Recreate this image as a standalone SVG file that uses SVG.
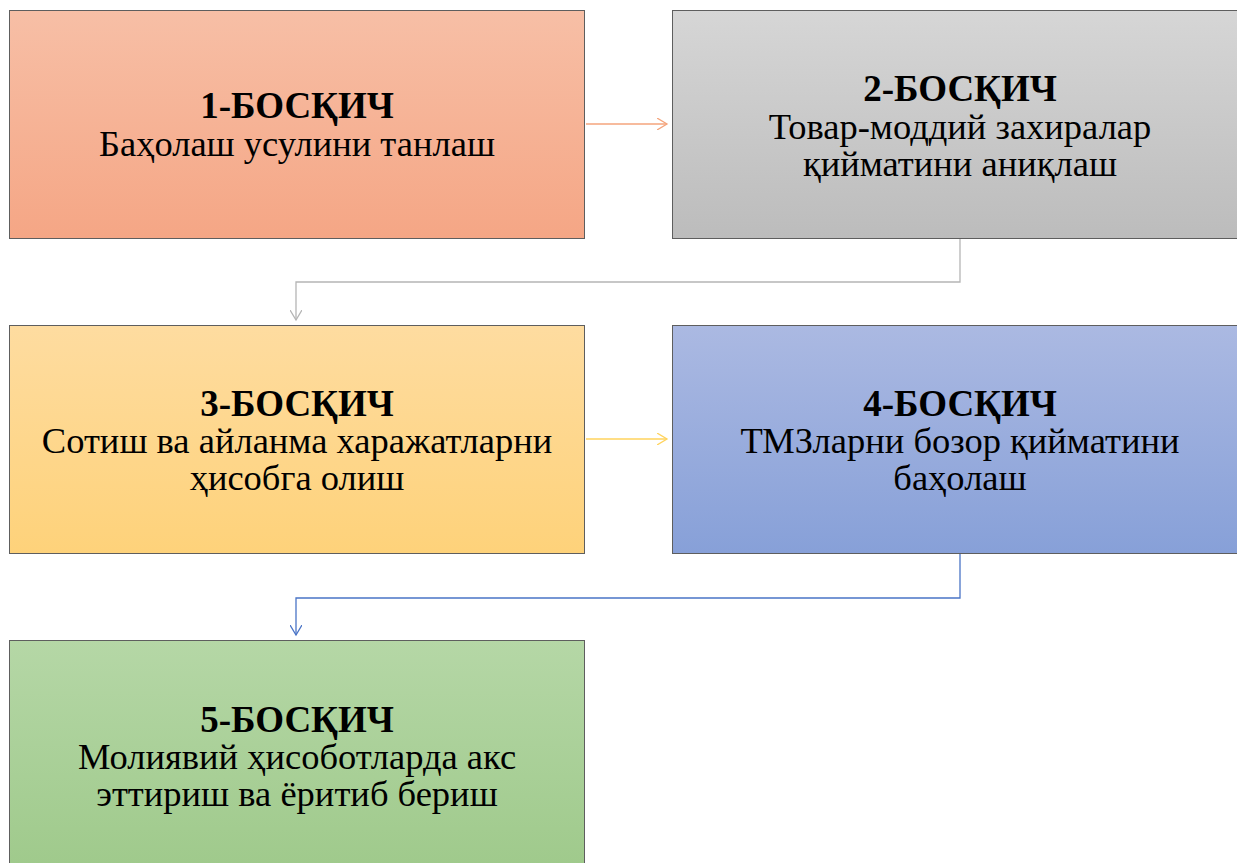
<svg xmlns="http://www.w3.org/2000/svg" width="1237" height="863" viewBox="0 0 1237 863">
<style>
.box{stroke:#5e5e5e;stroke-width:1}
.t{font-family:"Liberation Serif","Times New Roman",serif;font-size:36.5px;fill:#000;text-anchor:middle}
.b{font-weight:bold;font-size:37px}
.c{fill:none;stroke-width:1.3}
</style>
<defs>
<linearGradient id="g1" x1="0" y1="0" x2="0" y2="1"><stop offset="0" stop-color="#f7bfa6"/><stop offset="1" stop-color="#f5a685"/></linearGradient>
<linearGradient id="g2" x1="0" y1="0" x2="0" y2="1"><stop offset="0" stop-color="#d6d6d6"/><stop offset="1" stop-color="#bcbcbc"/></linearGradient>
<linearGradient id="g3" x1="0" y1="0" x2="0" y2="1"><stop offset="0" stop-color="#fedca0"/><stop offset="1" stop-color="#fed27a"/></linearGradient>
<linearGradient id="g4" x1="0" y1="0" x2="0" y2="1"><stop offset="0" stop-color="#abb9e2"/><stop offset="1" stop-color="#87a0d8"/></linearGradient>
<linearGradient id="g5" x1="0" y1="0" x2="0" y2="1"><stop offset="0" stop-color="#b5d7a6"/><stop offset="1" stop-color="#9ec98a"/></linearGradient>
<marker id="a1" markerWidth="12" markerHeight="12" refX="10" refY="6" orient="auto" markerUnits="userSpaceOnUse"><path d="M0,0 L10,6 L0,12" fill="none" stroke="#f4a47c" stroke-width="1.3"/></marker>
<marker id="a2" markerWidth="12" markerHeight="12" refX="10" refY="6" orient="auto" markerUnits="userSpaceOnUse"><path d="M0,0 L10,6 L0,12" fill="none" stroke="#b5b5b5" stroke-width="1.3"/></marker>
<marker id="a3" markerWidth="12" markerHeight="12" refX="10" refY="6" orient="auto" markerUnits="userSpaceOnUse"><path d="M0,0 L10,6 L0,12" fill="none" stroke="#ffd35c" stroke-width="1.3"/></marker>
<marker id="a4" markerWidth="12" markerHeight="12" refX="10" refY="6" orient="auto" markerUnits="userSpaceOnUse"><path d="M0,0 L10,6 L0,12" fill="none" stroke="#4a74c6" stroke-width="1.3"/></marker>
</defs>
<rect width="1237" height="863" fill="#fff"/>
<g id="connectors">
<path class="c" d="M586,124 H667" stroke="#f4a47c" marker-end="url(#a1)"/>
<path class="c" d="M960,239 V282 H296 V320" stroke="#b5b5b5" marker-end="url(#a2)"/>
<path class="c" d="M586,439 H667" stroke="#ffd35c" marker-end="url(#a3)"/>
<path class="c" d="M960,554 V598 H296 V635" stroke="#4a74c6" marker-end="url(#a4)"/>
</g>
<g id="node1">
<rect class="box" x="9.5" y="10.5" width="575" height="228" fill="url(#g1)"/>
<text class="t b" x="297" y="118">1-БОСҚИЧ</text>
<text class="t" x="297" y="156">Баҳолаш усулини  танлаш</text>
</g>
<g id="node2">
<rect class="box" x="672.5" y="10.5" width="575" height="228" fill="url(#g2)"/>
<text class="t b" x="960" y="101">2-БОСҚИЧ</text>
<text class="t" x="960" y="139">Товар-моддий захиралар</text>
<text class="t" x="960" y="176">қийматини аниқлаш</text>
</g>
<g id="node3">
<rect class="box" x="9.5" y="325.5" width="575" height="228" fill="url(#g3)"/>
<text class="t b" x="297" y="416">3-БОСҚИЧ</text>
<text class="t" x="297" y="453">Сотиш ва айланма харажатларни</text>
<text class="t" x="297" y="490">ҳисобга олиш</text>
</g>
<g id="node4">
<rect class="box" x="672.5" y="325.5" width="575" height="228" fill="url(#g4)"/>
<text class="t b" x="960" y="416">4-БОСҚИЧ</text>
<text class="t" x="960" y="453">ТМЗларни бозор қийматини</text>
<text class="t" x="960" y="490">баҳолаш</text>
</g>
<g id="node5">
<rect class="box" x="9.5" y="640.5" width="575" height="240" fill="url(#g5)"/>
<text class="t b" x="297" y="732">5-БОСҚИЧ</text>
<text class="t" x="297" y="769">Молиявий ҳисоботларда акс</text>
<text class="t" x="297" y="806">эттириш ва ёритиб бериш</text>
</g>
</svg>
